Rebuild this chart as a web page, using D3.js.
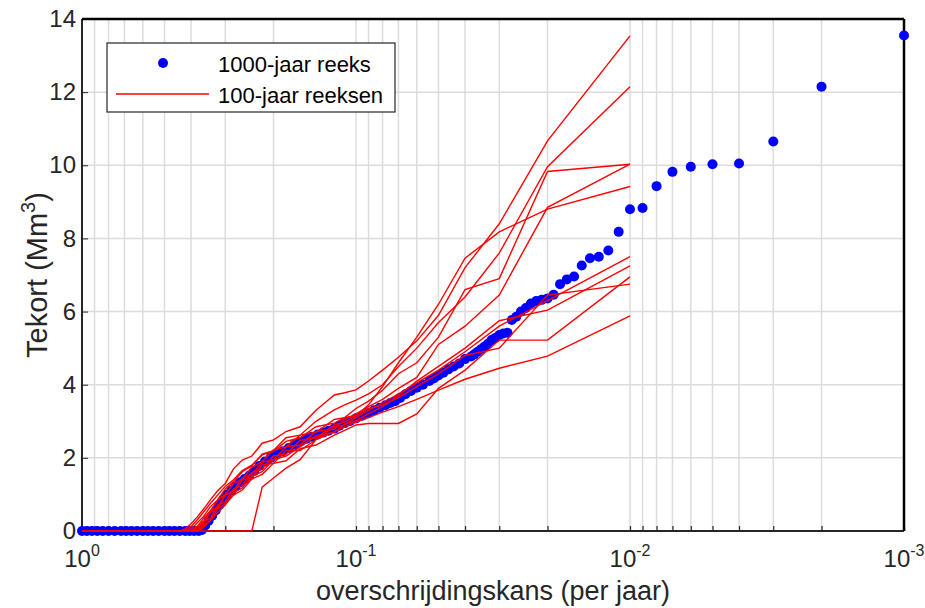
<!DOCTYPE html>
<html>
<head>
<meta charset="utf-8">
<script src="https://cdn.jsdelivr.net/npm/d3@7"></script>
<style>
body { margin: 0; background: #fff; }
text { font-family: "Liberation Sans", Arial, sans-serif; }
</style>
</head>
<body>
<div id="chart"></div>
<script>

// 1000-jaar reeks: overschrijdingskans (per jaar) en tekort (Mm3)
var blueProb = [0.001,0.002,0.003,0.004,0.005,0.006,0.007,0.008,0.009,0.010,
  0.011,0.012,0.013,0.014,0.015,0.016,0.017,0.018,0.019,0.020,
  0.021,0.022,0.023,0.024,0.025,0.026,0.027,0.028,0.029,0.030,
  0.031,0.032,0.033,0.034,0.035,0.036,0.037,0.038,0.040,0.042,
  0.044,0.046,0.048,0.050,0.052,0.054,0.057,0.060,0.063,0.066,
  0.069,0.072,0.075,0.078,0.082,0.086,0.090,0.095,0.100,0.105,
  0.110,0.115,0.120,0.126,0.132,0.138,0.145,0.152,0.160,0.168,
  0.176,0.185,0.195,0.205,0.215,0.225,0.235,0.245,0.255,0.265,
  0.275,0.285,0.295,0.305,0.315,0.325,0.335,0.345,0.355,0.365,
  0.375,0.390,0.405,0.420,0.440,0.460,0.480,0.500,0.525,0.550,
  0.575,0.600,0.630,0.660,0.690,0.720,0.760,0.800,0.840,0.880,
  0.920,0.960,1.000];
var blueTekort = [13.55,12.15,10.65,10.05,10.03,9.96,9.82,9.43,8.83,8.80,
  8.18,7.67,7.50,7.46,7.26,6.96,6.88,6.75,6.46,6.36,
  6.32,6.29,6.22,6.10,6.00,5.86,5.77,5.42,5.40,5.36,
  5.28,5.22,5.12,5.04,4.97,4.90,4.83,4.77,4.70,4.58,
  4.50,4.42,4.33,4.25,4.17,4.10,4.00,3.92,3.83,3.74,
  3.64,3.55,3.50,3.44,3.37,3.30,3.23,3.15,3.08,3.01,
  2.95,2.88,2.80,2.74,2.69,2.64,2.58,2.52,2.44,2.36,
  2.27,2.18,2.09,2.00,1.90,1.78,1.64,1.52,1.42,1.33,
  1.22,1.10,0.99,0.86,0.72,0.56,0.42,0.28,0.15,0.03,
  0,0,0,0,0,0,0,0,0,0,
  0,0,0,0,0,0,0,0,0,0,
  0,0,0];

// 100-jaar reeksen: gedeelde kansen, tien reeksen
var redProb = [0.01,0.02,0.03,0.04,0.05,0.06,0.07,0.08,0.09,0.10,
  0.11,0.12,0.14,0.16,0.18,0.20,0.22,0.24,0.26,0.28,
  0.30,0.32,0.34,0.36,0.38,0.40,0.42,0.44,1.00];
var reeks1  = [13.54,10.67,8.40,7.20,5.90,5.20,4.75,4.40,4.10,3.86,3.78,3.72,3.30,2.85,2.72,2.49,2.40,2.05,1.94,1.70,1.30,1.10,0.85,0.60,0.38,0.20,0.06,0,0];
var reeks2  = [12.15,9.96,7.60,6.40,5.70,5.00,4.50,4.00,3.75,3.58,3.45,3.31,3.00,2.62,2.55,2.20,2.10,1.78,1.62,1.35,1.15,0.85,0.66,0.40,0.22,0.05,0,0,0];
var reeks3  = [10.03,9.83,6.90,6.60,5.30,4.60,4.30,3.85,3.55,3.35,3.10,3.05,2.70,2.62,2.30,2.22,1.90,1.74,1.42,1.30,1.00,0.84,0.55,0.35,0.12,0,0,0,0];
var reeks4  = [10.03,8.85,6.45,5.60,5.10,4.20,3.90,3.60,3.40,3.20,3.05,2.78,2.72,2.35,2.30,1.95,1.88,1.55,1.45,1.10,0.98,0.62,0.50,0.20,0.08,0,0,0,0];
var reeks5  = [9.42,8.80,8.18,7.46,6.20,5.30,4.60,3.95,3.45,3.15,2.98,2.90,2.55,2.48,2.10,2.05,1.70,1.60,1.25,1.15,0.80,0.70,0.35,0.25,0.02,0,0,0,0];
var reeks6  = [7.50,6.30,5.60,4.90,4.40,4.05,3.75,3.50,3.30,3.10,2.90,2.85,2.50,2.20,2.20,1.85,1.80,1.45,1.40,1.05,1.00,0.65,0.55,0.25,0.12,0,0,0,0];
var reeks7  = [7.25,6.04,5.75,5.00,4.50,4.10,3.70,3.40,3.20,3.02,2.92,2.70,2.60,2.30,2.05,1.95,1.62,1.50,1.18,1.05,0.75,0.60,0.30,0.15,0,0,0,0,0];
var reeks8  = [6.95,5.22,5.22,4.40,3.90,3.20,2.94,2.94,2.94,2.90,2.75,2.62,2.35,2.25,1.92,1.85,1.55,1.42,1.12,0.98,0.72,0.50,0.30,0.10,0,0,0,0,0];
var reeks9  = [6.75,6.45,5.00,4.80,4.30,3.95,3.65,3.45,3.35,3.15,3.10,2.95,2.85,2.55,2.45,2.18,2.08,1.80,1.65,1.40,1.22,0.98,0.75,0.52,0.30,0.12,0.02,0,0];
var reeks10 = [5.88,4.78,4.45,4.15,3.85,3.60,3.40,3.25,3.10,2.98,2.85,2.72,2.50,1.95,1.72,1.45,1.20,0,0,0,0,0,0,0,0,0,0,0,0];
var reeksen = [reeks1,reeks2,reeks3,reeks4,reeks5,reeks6,reeks7,reeks8,reeks9,reeks10];

var yTicks = [0,2,4,6,8,10,12,14];
var xMajor = [1,0.1,0.01,0.001];
var xExp = ["0","-1","-2","-3"];

var margin = {top: 19, right: 21, bottom: 77, left: 82},
    width = 925 - margin.left - margin.right,
    height = 608 - margin.top - margin.bottom;

var x = d3.scaleLog().domain([1, 0.001]).range([0, width]);
var y = d3.scaleLinear().domain([0, 14]).range([height, 0]);

var svg = d3.select("#chart").append("svg")
    .attr("width", 925)
    .attr("height", 608);

svg.append("rect").attr("width", 925).attr("height", 608).attr("fill", "#fff");

var g = svg.append("g")
    .attr("transform", "translate(" + margin.left + "," + margin.top + ")");

// grid
g.selectAll(".gx")
    .data(x.ticks())
  .enter().append("line")
    .attr("x1", function(d){ return x(d); })
    .attr("x2", function(d){ return x(d); })
    .attr("y1", 0).attr("y2", height)
    .style("stroke", "#dcdcdc").style("stroke-width", 1.5);

g.selectAll(".gy")
    .data(yTicks)
  .enter().append("line")
    .attr("x1", 0).attr("x2", width)
    .attr("y1", function(d){ return y(d); })
    .attr("y2", function(d){ return y(d); })
    .style("stroke", "#dcdcdc").style("stroke-width", 1.5);

// axes
var xAxis = g.append("g")
    .attr("transform", "translate(0," + height + ")")
    .call(d3.axisBottom(x).tickValues(x.ticks()).tickSize(-5).tickFormat(""));
xAxis.select(".domain").remove();
xAxis.selectAll("line").style("stroke", "#262626").style("stroke-width", 1.2);

g.selectAll(".xl")
    .data(xMajor)
  .enter().append("text")
    .attr("x", function(d){ return x(d); })
    .attr("y", height + 36)
    .style("text-anchor", "middle")
    .style("font-size", "24px")
    .style("fill", "#262626")
    .each(function(d, i){
      var t = d3.select(this);
      t.append("tspan").text("10");
      t.append("tspan").attr("dy", -11).style("font-size", "16px").text(xExp[i]);
    });

var yAxis = g.append("g")
    .call(d3.axisLeft(y).tickValues(yTicks).tickSize(-6).tickPadding(6));
yAxis.select(".domain").remove();
yAxis.selectAll("line").style("stroke", "#262626");
yAxis.selectAll("text")
    .style("font-size", "24px")
    .style("fill", "#262626")
    .style("font-family", "'Liberation Sans', Arial, sans-serif");

// box
g.append("line").attr("x1", 0).attr("x2", width).attr("y1", height).attr("y2", height)
    .style("stroke", "#262626").style("stroke-width", 2);
g.append("line").attr("x1", 0).attr("x2", 0).attr("y1", 0).attr("y2", height)
    .style("stroke", "#262626").style("stroke-width", 2);
g.append("line").attr("x1", 0).attr("x2", width).attr("y1", 0).attr("y2", 0)
    .style("stroke", "#000").style("stroke-width", 2.5);
g.append("line").attr("x1", width).attr("x2", width).attr("y1", 0).attr("y2", height)
    .style("stroke", "#000").style("stroke-width", 2.5);

// 1000-jaar reeks
g.selectAll(".dot")
    .data(blueProb)
  .enter().append("circle")
    .attr("cx", function(d){ return x(d); })
    .attr("cy", function(d, i){ return y(blueTekort[i]); })
    .attr("r", 5)
    .style("fill", "#0000ff");

// 100-jaar reeksen
var line = d3.line()
    .x(function(d, i){ return x(redProb[i]); })
    .y(function(d){ return y(d); });

g.selectAll(".reeks")
    .data(reeksen)
  .enter().append("path")
    .attr("d", line)
    .style("fill", "none")
    .style("stroke", "#ff0000")
    .style("stroke-width", 1.4);

// labels
svg.append("text")
    .attr("x", margin.left + width / 2)
    .attr("y", 600)
    .style("text-anchor", "middle")
    .style("font-size", "27px")
    .style("fill", "#262626")
    .text("overschrijdingskans (per jaar)");

var yl = svg.append("text")
    .attr("transform", "translate(47," + (margin.top + height / 2) + ") rotate(-90)")
    .style("text-anchor", "middle")
    .style("font-size", "29px")
    .style("fill", "#262626");
yl.append("tspan").text("Tekort (Mm");
yl.append("tspan").attr("dy", -12).style("font-size", "20px").text("3");
yl.append("tspan").attr("dy", 12).text(")");

// legend
var lg = svg.append("g").attr("transform", "translate(107,43)");
lg.append("rect")
    .attr("width", 288).attr("height", 69)
    .style("fill", "#fff").style("stroke", "#262626").style("stroke-width", 1.2);
lg.append("circle").attr("cx", 56).attr("cy", 20).attr("r", 5).style("fill", "#0000ff");
lg.append("line").attr("x1", 9).attr("x2", 102).attr("y1", 51).attr("y2", 51)
    .style("stroke", "#ff0000").style("stroke-width", 1.4);
lg.append("text").attr("x", 111).attr("y", 29).style("font-size", "22px").text("1000-jaar reeks");
lg.append("text").attr("x", 111).attr("y", 60).style("font-size", "22px").text("100-jaar reeksen");

</script>
</body>
</html>
